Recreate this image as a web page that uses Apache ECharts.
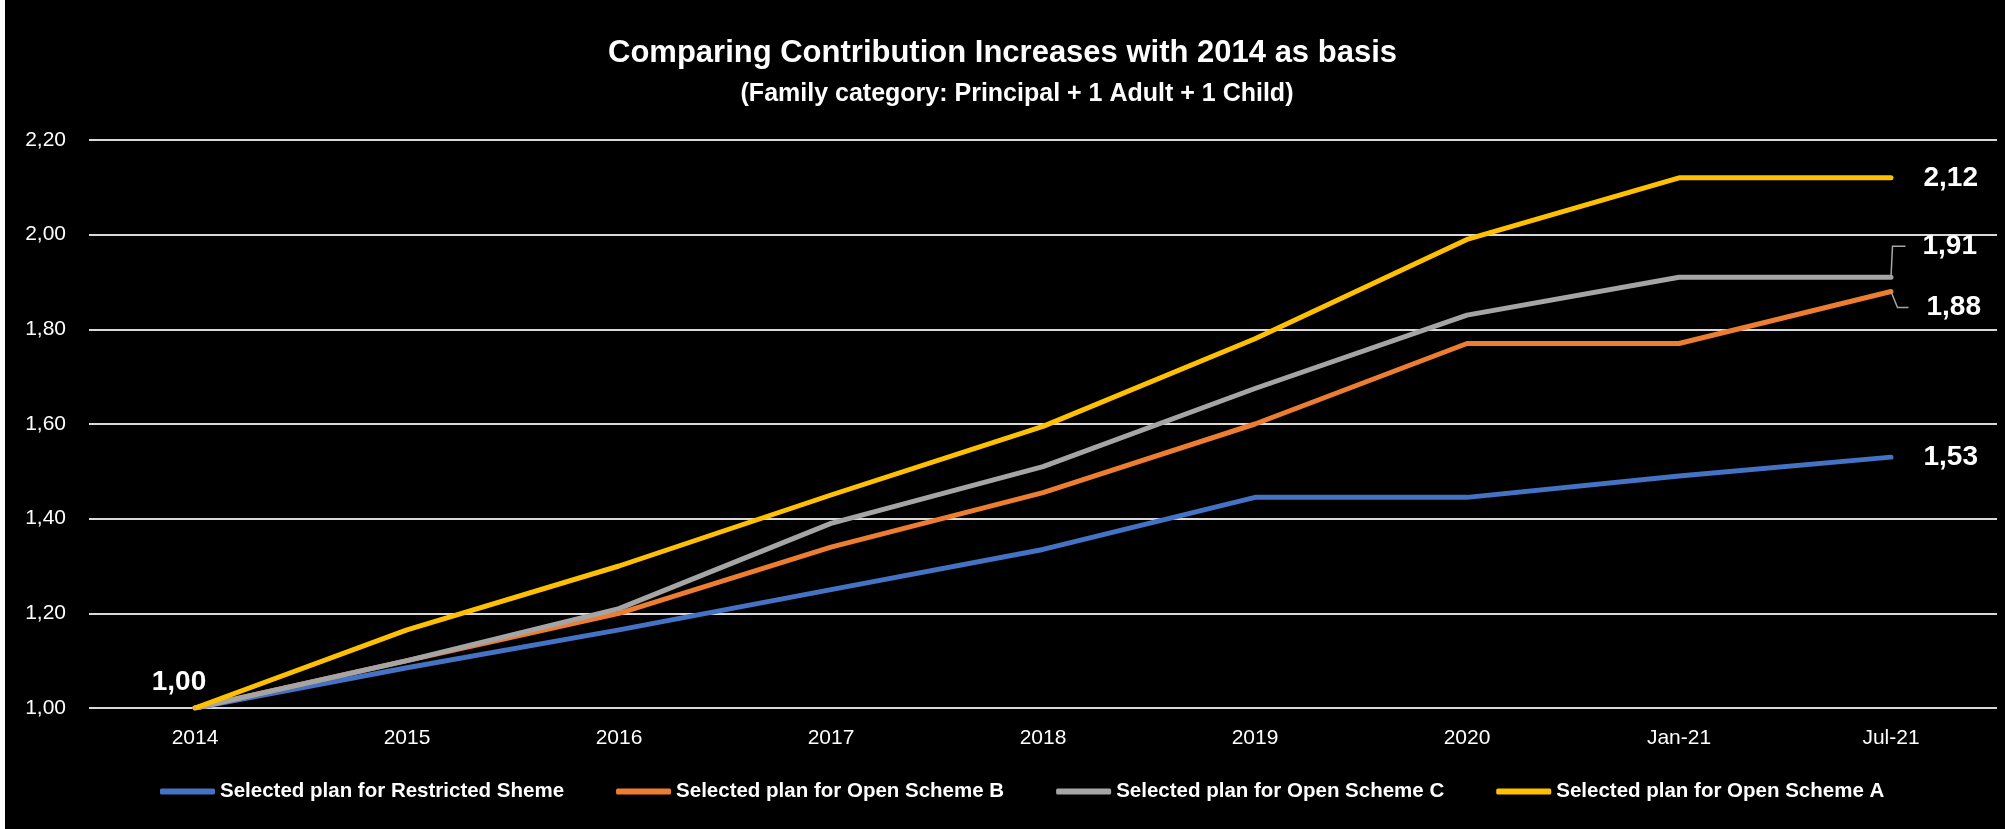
<!DOCTYPE html>
<html>
<head>
<meta charset="utf-8">
<title>Comparing Contribution Increases with 2014 as basis</title>
<script src="https://cdn.jsdelivr.net/npm/echarts@6/dist/echarts.min.js"></script>
<style>
  html, body { margin: 0; padding: 0; background: #000; }
  #chart { width: 2005px; height: 829px; }
</style>
</head>
<body>
<div id="chart"></div>
<script>
// Contribution index per period, 2014 = 1.00
const categories = ['2014', '2015', '2016', '2017', '2018', '2019', '2020', 'Jan-21', 'Jul-21'];
const restrictedScheme = [1.00, 1.085, 1.165, 1.25, 1.335, 1.445, 1.445, 1.49, 1.53];
const openSchemeB = [1.00, 1.10, 1.20, 1.34, 1.455, 1.60, 1.77, 1.77, 1.88];
const openSchemeC = [1.00, 1.10, 1.21, 1.39, 1.51, 1.675, 1.83, 1.91, 1.91];
const openSchemeA = [1.00, 1.165, 1.30, 1.45, 1.595, 1.78, 1.99, 2.12, 2.12];
const yTickLabels = ['1,00', '1,20', '1,40', '1,60', '1,80', '2,00', '2,20'];
const seriesNames = [
  'Selected plan for Restricted Sheme',
  'Selected plan for Open Scheme B',
  'Selected plan for Open Scheme C',
  'Selected plan for Open Scheme A'
];
const seriesColors = ['#4472C4', '#ED7D31', '#A5A5A5', '#FFC000'];

const FONT = "'Liberation Sans', Arial, sans-serif";
const fmt = v => v.toFixed(2).replace('.', ',');

const valueLabel = (extra) => Object.assign({
  show: true,
  color: '#fff',
  fontFamily: FONT,
  fontWeight: 'bold',
  fontSize: 28,
  formatter: p => fmt(p.value)
}, extra);

// attach per-point labels to a value array
function withLabels(values, labelled) {
  return values.map((v, i) => labelled[i] ? Object.assign({ value: v }, labelled[i]) : v);
}

const last = categories.length - 1;
const leader = { color: '#A6A6A6', width: 1.5 };
// an invisible box so the padding keeps a gap between leader line and text
const gapBox = { backgroundColor: 'rgba(0,0,0,0)' };

const dataRestricted = withLabels(restrictedScheme, {
  [last]: { label: valueLabel({ position: 'right', distance: 32 }) }
});
const dataB = withLabels(openSchemeB, {
  [last]: {
    label: valueLabel(Object.assign({ position: 'right', distance: 17, padding: [0, 0, 0, 18] }, gapBox)),
    labelLine: { show: true, length2: 11, lineStyle: leader }
  }
});
const dataC = withLabels(openSchemeC, {
  [last]: {
    label: valueLabel(Object.assign({ position: 'right', distance: 14, padding: [0, 0, 0, 17] }, gapBox)),
    labelLine: { show: true, length2: 13, lineStyle: leader }
  }
});
const dataA = withLabels(openSchemeA, {
  0: { label: valueLabel({ position: 'top', distance: 11, offset: [-16, 0] }) },
  [last]: { label: valueLabel({ position: 'right', distance: 32 }) }
});

// shift the two crowded end labels apart (leader lines follow)
const nudge = (dy) => (p) => (p.dataIndex === last ? { dy: dy } : {});

function lineSeries(name, data, color, extra) {
  return Object.assign({
    name: name,
    type: 'line',
    data: data,
    symbol: 'circle',
    symbolSize: 1,
    showSymbol: true,
    itemStyle: { color: color },
    lineStyle: { color: color, width: 5, cap: 'round', join: 'round' },
    label: { show: false },
    emphasis: { disabled: true },
    z: 2
  }, extra || {});
}

const chart = echarts.init(document.getElementById('chart'), null, { renderer: 'canvas' });

chart.setOption({
  backgroundColor: '#000',
  animation: false,
  title: [
    {
      text: 'Comparing Contribution Increases with 2014 as basis',
      left: 'center',
      top: 38,
      padding: 0,
      textStyle: { color: '#fff', fontFamily: FONT, fontWeight: 'bold', fontSize: 31 }
    },
    {
      text: '(Family category: Principal + 1 Adult + 1 Child)',
      left: 1017,
      textAlign: 'center',
      top: 82,
      padding: 0,
      textStyle: { color: '#fff', fontFamily: FONT, fontWeight: 'bold', fontSize: 25 }
    }
  ],
  legend: {
    data: seriesNames,
    left: 160,
    top: 781,
    padding: 0,
    itemGap: 52,
    itemWidth: 55,
    itemHeight: 6,
    icon: 'roundRect',
    selectedMode: false,
    textStyle: { color: '#fff', fontFamily: FONT, fontWeight: 'bold', fontSize: 20.5 }
  },
  grid: {
    left: 89,
    right: 8,
    top: 140,
    bottom: 121,
    containLabel: false,
    outerBoundsMode: 'none'
  },
  xAxis: {
    type: 'category',
    data: categories,
    boundaryGap: true,
    axisLine: { show: false },
    axisTick: { show: false },
    axisLabel: { color: '#fff', fontFamily: FONT, fontSize: 21, margin: 20 },
    splitLine: { show: false }
  },
  yAxis: {
    type: 'value',
    min: 1,
    max: 2.2,
    interval: 0.2,
    axisLine: { show: false },
    axisTick: { show: false },
    axisLabel: {
      color: '#fff',
      fontFamily: FONT,
      fontSize: 21,
      margin: 23,
      formatter: (v, i) => yTickLabels[i]
    },
    splitLine: { show: true, lineStyle: { color: '#D9D9D9', width: 2 } }
  },
  graphic: [
    // white frame edge along the left side
    { type: 'rect', left: 0, top: 0, shape: { width: 5, height: 829 }, style: { fill: '#fff' }, silent: true }
  ],
  series: [
    lineSeries(seriesNames[0], dataRestricted, seriesColors[0]),
    lineSeries(seriesNames[1], dataB, seriesColors[1], { labelLayout: nudge(16) }),
    lineSeries(seriesNames[2], dataC, seriesColors[2], { labelLayout: nudge(-31) }),
    lineSeries(seriesNames[3], dataA, seriesColors[3])
  ]
});
</script>
</body>
</html>
